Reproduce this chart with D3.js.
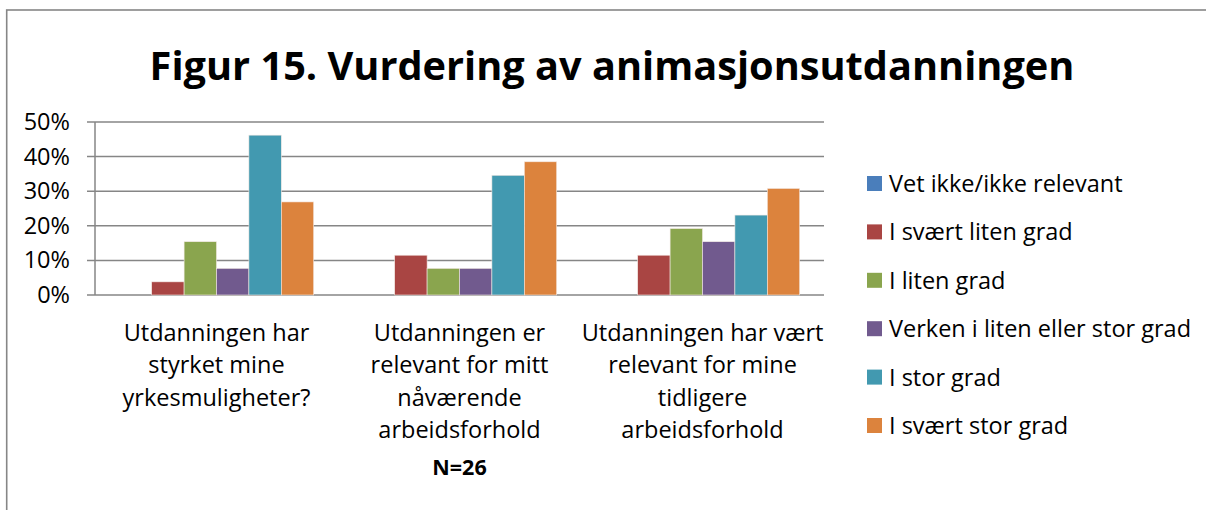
<!DOCTYPE html>
<html>
<head>
<meta charset="utf-8">
<script src="https://cdn.jsdelivr.net/npm/d3@7"></script>
<style>
  body { margin: 0; background: #fff; }
  text { font-family: "Open Sans", sans-serif; fill: #000; }
</style>
</head>
<body>
<div id="chart"></div>
<script>
var categories = [
    ["Utdanningen har", "styrket mine", "yrkesmuligheter?"],
    ["Utdanningen er", "relevant for mitt", "nåværende", "arbeidsforhold"],
    ["Utdanningen har vært", "relevant for mine", "tidligere", "arbeidsforhold"]
]
var series = ["Vet ikke/ikke relevant", "I svært liten grad", "I liten grad",
    "Verken i liten eller stor grad", "I stor grad", "I svært stor grad"]
var colors = ["#4A7EBB", "#A94543", "#8AA54E", "#715A8E", "#4299B0", "#DC833D"]
// share of answers, N=26
var vet_ikke   = [0, 0, 0]
var svaert_lit = [0.038, 0.115, 0.115]
var liten      = [0.154, 0.077, 0.192]
var verken     = [0.077, 0.077, 0.154]
var stor       = [0.462, 0.346, 0.231]
var svaert_st  = [0.269, 0.385, 0.308]
var yTicks = [0, 0.1, 0.2, 0.3, 0.4, 0.5]

var values = [vet_ikke, svaert_lit, liten, verken, stor, svaert_st]
var fs = 23.5

var svg = d3.select("#chart")
    .append("svg")
    .attr("width", 1206)
    .attr("height", 510)

svg.append("rect")
    .attr("x", 6.7)
    .attr("y", 10)
    .attr("width", 1210)
    .attr("height", 520)
    .attr("fill", "none")
    .attr("stroke", "#868686")
    .attr("stroke-width", 1.6)

// title, fitted to the width of the original
var title = svg.append("text")
    .attr("x", 612)
    .attr("y", 80)
    .attr("text-anchor", "middle")
    .attr("font-weight", 700)
    .attr("font-size", 44)
    .text("Figur 15. Vurdering av animasjonsutdanningen")
var tw = title.node().getComputedTextLength()
title.attr("font-size", 44 * 925 / tw)

var x0 = d3.scaleBand()
    .domain(d3.range(categories.length))
    .range([95, 824])

var x1 = d3.scaleBand()
    .domain(d3.range(series.length))
    .range([0, x0.bandwidth()])
    .paddingOuter(0.75)

var y = d3.scaleLinear()
    .domain([0, 0.5])
    .range([295, 122])

// gridlines
svg.append("g")
    .selectAll("line")
    .data(yTicks)
    .enter()
    .append("line")
    .attr("x1", 87)
    .attr("x2", 824)
    .attr("y1", function(d) { return y(d); })
    .attr("y2", function(d) { return y(d); })
    .attr("stroke", "#868686")
    .attr("stroke-width", 1.5)

svg.append("line")
    .attr("x1", 95)
    .attr("x2", 95)
    .attr("y1", 122)
    .attr("y2", 295)
    .attr("stroke", "#868686")
    .attr("stroke-width", 1.5)

var yAxis = svg.append("g")
    .attr("transform", "translate(87,0)")
    .call(d3.axisLeft(y).tickValues(yTicks).tickFormat(d3.format(".0%")).tickSize(0).tickPadding(17))
yAxis.select(".domain").remove()
yAxis.selectAll("text")
    .attr("font-size", fs)
    .attr("font-family", "Open Sans")
    .attr("fill", "#000")

// bars
var groups = svg.append("g")
    .selectAll("g")
    .data(categories)
    .enter()
    .append("g")
    .attr("transform", function(d, i) { return "translate(" + x0(i) + ",0)"; })

groups.selectAll("rect")
    .data(function(d, i) { return values.map(function(v, s) { return {s: s, v: v[i]}; }); })
    .enter()
    .append("rect")
    .filter(function(d) { return d.v > 0; })
    .attr("x", function(d) { return x1(d.s); })
    .attr("width", x1.bandwidth())
    .attr("y", function(d) { return y(d.v); })
    .attr("height", function(d) { return y(0) - y(d.v); })
    .attr("fill", function(d) { return colors[d.s]; })
    .attr("stroke", "#f3e9e4")
    .attr("stroke-width", 0.6)

// category labels
var catLabels = svg.append("g")
    .selectAll("text")
    .data(categories)
    .enter()
    .append("text")
    .attr("text-anchor", "middle")
    .attr("font-size", fs)

catLabels.selectAll("tspan")
    .data(function(d, i) { return d.map(function(l) { return {l: l, i: i}; }); })
    .enter()
    .append("tspan")
    .attr("x", function(d) { return x0(d.i) + x0.bandwidth() / 2; })
    .attr("y", function(d, j) { return 341 + j * 32.3; })
    .text(function(d) { return d.l; })

svg.append("text")
    .attr("x", x0(1) + x0.bandwidth() / 2)
    .attr("y", 475)
    .attr("text-anchor", "middle")
    .attr("font-size", 21.5)
    .attr("font-weight", 700)
    .text("N=26")

// legend
var legend = svg.append("g")
    .selectAll("g")
    .data(series)
    .enter()
    .append("g")
    .attr("transform", function(d, i) { return "translate(867," + (183.5 + i * 48.4) + ")"; })

legend.append("rect")
    .attr("x", 0)
    .attr("y", -7.5)
    .attr("width", 15)
    .attr("height", 15)
    .attr("fill", function(d, i) { return colors[i]; })

legend.append("text")
    .attr("x", 22)
    .attr("y", 8.5)
    .attr("font-size", fs)
    .text(function(d) { return d; })
</script>
</body>
</html>
